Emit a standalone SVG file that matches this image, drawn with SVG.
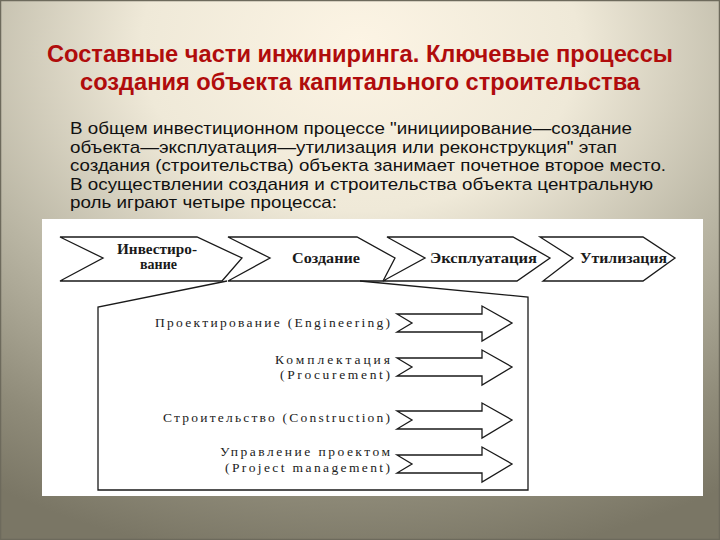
<svg xmlns="http://www.w3.org/2000/svg" width="720" height="540" viewBox="0 0 720 540">
  <defs>
    <radialGradient id="bg" cx="50%" cy="10%" r="95%" fx="50%" fy="8%">
      <stop offset="0" stop-color="#fcf4e4"/>
      <stop offset="0.32" stop-color="#efe9d8"/>
      <stop offset="0.62" stop-color="#b8b4a2"/>
      <stop offset="0.85" stop-color="#8f8b79"/>
      <stop offset="1" stop-color="#7a7665"/>
    </radialGradient>
    <style>
      .title { font-family: "Liberation Sans", Arial, sans-serif; font-weight: bold; font-size: 24px; fill: #b00c0c; }
      .body { font-family: "Liberation Sans", Arial, sans-serif; font-size: 17px; fill: #111; }
      .chev { fill: #fff; stroke: #1a1a1a; stroke-width: 1.3; stroke-linejoin: miter; }
      .chevt { font-family: "Liberation Serif", "Times New Roman", serif; font-weight: bold; font-size: 14.5px; fill: #1a1a1a; }
      .arr { fill: #fff; stroke: #1a1a1a; stroke-width: 1.3; }
      .lbl { font-family: "Liberation Serif", "Times New Roman", serif; font-size: 13.5px; fill: #222; }
      .line { fill: none; stroke: #1a1a1a; stroke-width: 1.3; }
    </style>
  </defs>
  <rect x="0" y="0" width="720" height="540" fill="url(#bg)"/>
  <rect x="0.5" y="0.5" width="719" height="539" fill="none" stroke="#6d6a5c" stroke-width="1.5"/>

  <g id="title">
    <text class="title" x="47" y="62" textLength="626" lengthAdjust="spacingAndGlyphs">Составные части инжиниринга. Ключевые процессы</text>
    <text class="title" x="80" y="90" textLength="560" lengthAdjust="spacingAndGlyphs">создания объекта капитального строительства</text>
  </g>

  <g id="body">
    <text class="body" x="70" y="134" textLength="562" lengthAdjust="spacingAndGlyphs">В общем инвестиционном процессе "инициирование—создание</text>
    <text class="body" x="70" y="152.5" textLength="547" lengthAdjust="spacingAndGlyphs">объекта—эксплуатация—утилизация или реконструкция" этап</text>
    <text class="body" x="70" y="171" textLength="596" lengthAdjust="spacingAndGlyphs">создания (строительства) объекта занимает почетное второе место.</text>
    <text class="body" x="70" y="189.5" textLength="583" lengthAdjust="spacingAndGlyphs">В осуществлении создания и строительства объекта центральную</text>
    <text class="body" x="70" y="208" textLength="267" lengthAdjust="spacingAndGlyphs">роль играют четыре процесса:</text>
  </g>

  <rect id="panel" x="42" y="219" width="661" height="277" fill="#fff"/>

  <g id="stage-investment">
    <polygon class="chev" points="60,237 197,237 242,258 222,281 60,281 103,258"/>
    <text class="chevt" x="117" y="254" textLength="80" lengthAdjust="spacingAndGlyphs">Инвестиро-</text>
    <text class="chevt" x="140" y="269" textLength="37" lengthAdjust="spacingAndGlyphs">вание</text>
  </g>
  <g id="stage-creation">
    <polygon class="chev" points="228,237 357,237 395,258 383,281 228,281 270,258"/>
    <text class="chevt" x="292" y="263" textLength="68" lengthAdjust="spacingAndGlyphs">Создание</text>
  </g>
  <g id="stage-operation">
    <polygon class="chev" points="387,237 513,237 550,258 517,281 383,281 425,258"/>
    <text class="chevt" x="430" y="263" textLength="107" lengthAdjust="spacingAndGlyphs">Эксплуатация</text>
  </g>
  <g id="stage-utilization">
    <polygon class="chev" points="540,237 643,237 675,258 643,281 543,281 573,258"/>
    <text class="chevt" x="580" y="263" textLength="87" lengthAdjust="spacingAndGlyphs">Утилизация</text>
  </g>

  <g id="connectors">
    <polyline class="line" points="227,281 98,307 98,490 528,490 528,297 360,281"/>
  </g>

  <g id="proc-engineering">
    <text class="lbl" x="155" y="327" textLength="235" lengthAdjust="spacing">Проектирование (Engineering)</text>
    <polygon class="arr" points="397,314 482,314 482,306 512,323 482,341 482,332 397,332 412,323"/>
  </g>
  <g id="proc-procurement">
    <text class="lbl" x="275" y="364" textLength="115" lengthAdjust="spacing">Комплектация</text>
    <text class="lbl" x="280" y="379" textLength="110" lengthAdjust="spacing">(Procurement)</text>
    <polygon class="arr" points="397,358 482,358 482,350 512,367 482,385 482,376 397,376 412,367"/>
  </g>
  <g id="proc-construction">
    <text class="lbl" x="163" y="422" textLength="227" lengthAdjust="spacing">Строительство (Construction)</text>
    <polygon class="arr" points="397,411 482,411 482,403 512,420 482,438 482,429 397,429 412,420"/>
  </g>
  <g id="proc-management">
    <text class="lbl" x="220" y="456" textLength="170" lengthAdjust="spacing">Управление проектом</text>
    <text class="lbl" x="225" y="472" textLength="165" lengthAdjust="spacing">(Project management)</text>
    <polygon class="arr" points="397,455 482,455 482,447 512,464 482,482 482,473 397,473 412,464"/>
  </g>
</svg>
